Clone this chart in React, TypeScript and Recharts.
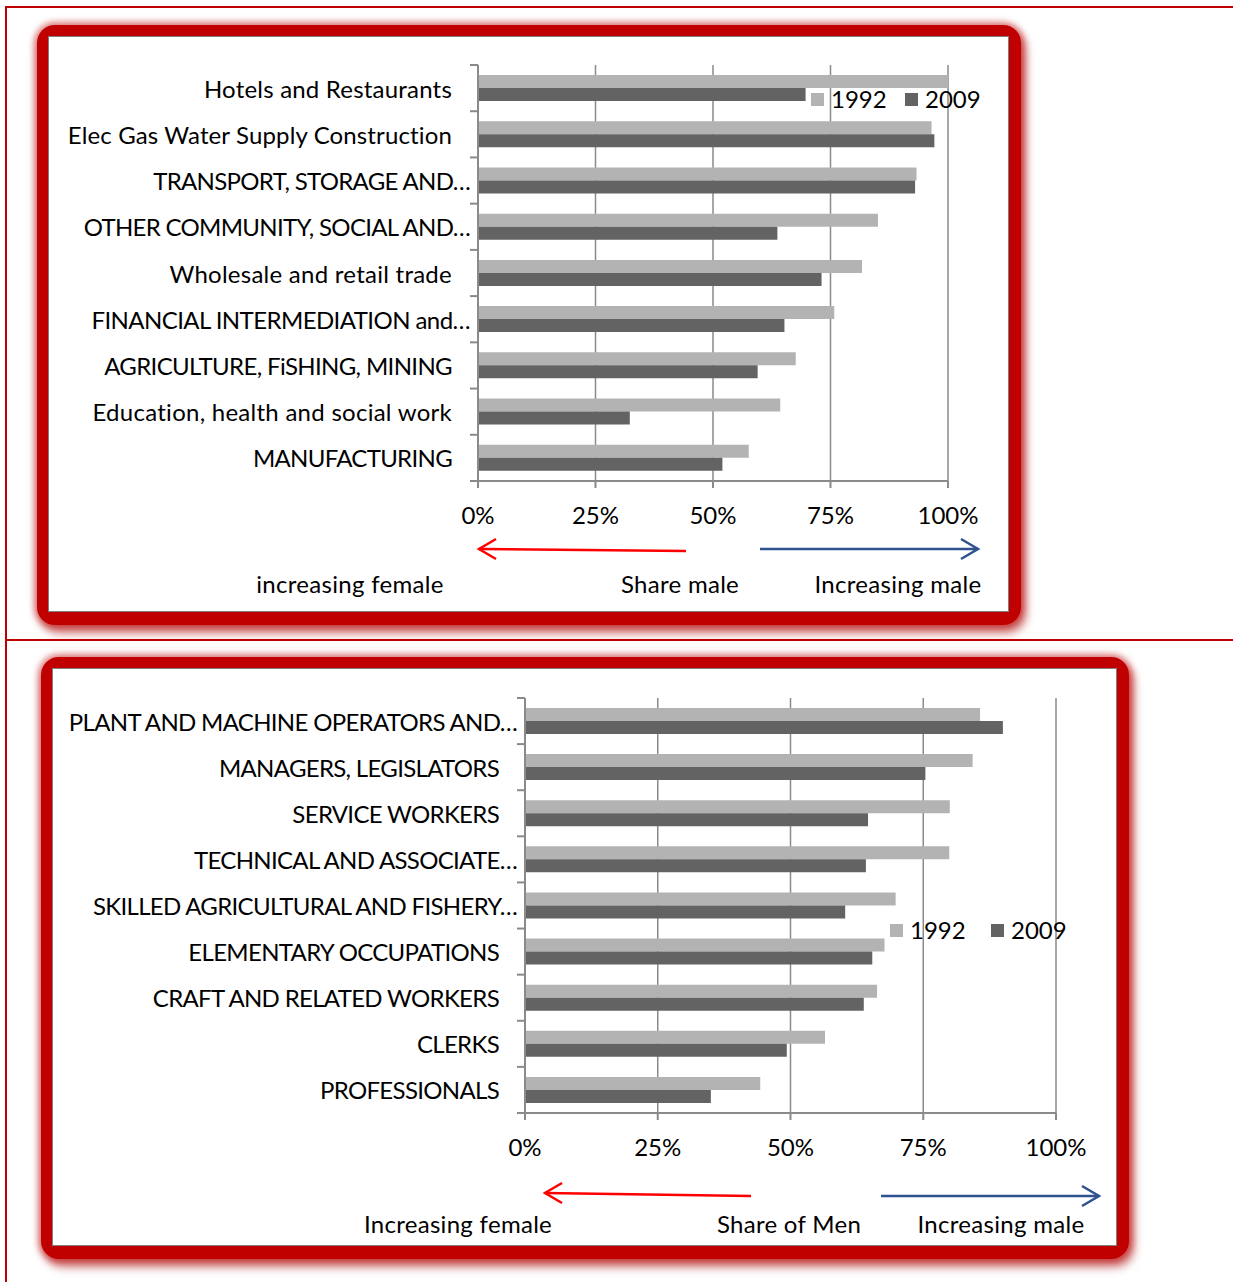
import React from 'react';
import { BarChart, Bar, XAxis, YAxis, CartesianGrid, Legend } from 'recharts';

const FONT = 'Lato, "Open Sans", sans-serif';
const GRID = '#8a8a8a';
const LIGHT = '#b3b3b3';
const DARK = '#636363';

// Panel 1: share of men by industry
const industries = [
  'Hotels and Restaurants',
  'Elec Gas Water Supply Construction',
  'TRANSPORT, STORAGE AND…',
  'OTHER COMMUNITY, SOCIAL AND…',
  'Wholesale and retail trade',
  'FINANCIAL INTERMEDIATION and…',
  'AGRICULTURE, FiSHING, MINING',
  'Education, health and social work',
  'MANUFACTURING',
];
const industry1992 = [100, 96.5, 93.3, 85.1, 81.7, 75.8, 67.6, 64.3, 57.6];
const industry2009 = [69.7, 97.1, 93.0, 63.7, 73.1, 65.2, 59.5, 32.3, 52.0];

// Panel 2: share of men by occupation
const occupations = [
  'PLANT AND MACHINE OPERATORS AND…',
  'MANAGERS, LEGISLATORS',
  'SERVICE WORKERS',
  'TECHNICAL AND ASSOCIATE…',
  'SKILLED AGRICULTURAL AND FISHERY…',
  'ELEMENTARY OCCUPATIONS',
  'CRAFT AND RELATED WORKERS',
  'CLERKS',
  'PROFESSIONALS',
];
const occupation1992 = [85.7, 84.3, 80.0, 79.9, 69.8, 67.7, 66.3, 56.5, 44.3];
const occupation2009 = [90.0, 75.4, 64.6, 64.2, 60.3, 65.4, 63.8, 49.3, 35.0];

const pctTicks = [0, 25, 50, 75, 100];
const years = ['1992', '2009'];

const toRows = (names: string[], a: number[], b: number[]) =>
  names.map((name, i) => ({ name, y1992: a[i], y2009: b[i] }));

// Lato caps run wider than Calibri, lowercase narrower: nudge spacing by mix
const spacingFor = (label: string) => {
  const letters = label.replace(/[^A-Za-z]/g, '');
  if (!letters.length) return 0;
  const upper = letters.replace(/[^A-Z]/g, '').length / letters.length;
  return upper * -0.68 + (1 - upper) * 0.3;
};

// category label + tick marks on the band boundaries (Excel style)
const makeYTick = (axisX: number, band: number, count: number) => (props: any) => {
  const { y, payload, index } = props;
  const label: string = payload.value;
  const truncated = label.endsWith('…');
  return (
    <g>
      <line x1={axisX - 8} x2={axisX} y1={y - band / 2} y2={y - band / 2} stroke={GRID} strokeWidth={2} />
      {index === count - 1 && (
        <line x1={axisX - 8} x2={axisX} y1={y + band / 2} y2={y + band / 2} stroke={GRID} strokeWidth={2} />
      )}
      <text
        x={axisX - (truncated ? 8 : 26)}
        y={y}
        textAnchor="end"
        dominantBaseline="central"
        fill="#000"
        fontSize={24}
        fontFamily={FONT}
        letterSpacing={spacingFor(label)}
      >
        {label}
      </text>
    </g>
  );
};

const XTick = (props: any) => {
  const { x, y, payload } = props;
  return (
    <text x={x} y={y + 26} textAnchor="middle" dominantBaseline="central" fill="#000" fontSize={24} fontFamily={FONT}>
      {`${payload.value}%`}
    </text>
  );
};

const LegendBox: React.FC<{ itemWidth: number }> = ({ itemWidth }) => (
  <div style={{ display: 'flex', fontFamily: FONT, fontSize: 24, color: '#000', lineHeight: '26px' }}>
    {years.map((yr, i) => (
      <div key={yr} style={{ display: 'flex', alignItems: 'center', width: itemWidth }}>
        <div style={{ width: 13, height: 13, background: i === 0 ? LIGHT : DARK, marginRight: 7 }} />
        <span>{yr}</span>
      </div>
    ))}
  </div>
);

interface PanelChartProps {
  rows: any[];
  top: number;
  height: number;
  plotLeft: number;
  plotRight: number;
  plotTop: number;
  plotBottom: number;
  legendLeft: number;
  legendTop: number;
  legendItemWidth: number;
}

const PanelChart: React.FC<PanelChartProps> = ({
  rows, top, height, plotLeft, plotRight, plotTop, plotBottom, legendLeft, legendTop, legendItemWidth,
}) => {
  const yAxisWidth = 430;
  const xAxisHeight = 50;
  const band = (plotBottom - plotTop) / rows.length;
  return (
    <div style={{ position: 'absolute', left: 0, top, width: 1233, height }}>
      <BarChart
        layout="vertical"
        width={1233}
        height={height}
        data={rows}
        barSize={13}
        barGap={0}
        margin={{
          top: plotTop,
          bottom: height - plotBottom - xAxisHeight,
          left: plotLeft - yAxisWidth,
          right: 1233 - plotRight,
        }}
      >
        <CartesianGrid horizontal={false} stroke={GRID} strokeWidth={1.5} />
        <XAxis
          type="number"
          domain={[0, 100]}
          ticks={pctTicks}
          height={xAxisHeight}
          tickSize={7}
          tickMargin={0}
          axisLine={{ stroke: GRID, strokeWidth: 2 }}
          tickLine={{ stroke: GRID, strokeWidth: 2 }}
          tick={<XTick />}
          interval={0}
        />
        <YAxis
          type="category"
          dataKey="name"
          width={yAxisWidth}
          axisLine={{ stroke: GRID, strokeWidth: 2 }}
          tickLine={false}
          interval={0}
          tick={makeYTick(plotLeft, band, rows.length)}
        />
        <Legend
          layout="horizontal"
          verticalAlign="middle"
          align="center"
          wrapperStyle={{ left: legendLeft, top: legendTop, width: 'auto' }}
          content={() => <LegendBox itemWidth={legendItemWidth} />}
        />
        <Bar dataKey="y1992" name="1992" fill={LIGHT} isAnimationActive={false} />
        <Bar dataKey="y2009" name="2009" fill={DARK} isAnimationActive={false} />
      </BarChart>
    </div>
  );
};

const Frame: React.FC<{ left: number; top: number; right: number; bottom: number }> = ({ left, top, right, bottom }) => (
  <>
    <div
      style={{
        position: 'absolute',
        left: left - 11,
        top: top - 11,
        width: right - left + 23,
        height: bottom - top + 24,
        background: '#c00000',
        borderRadius: 18,
        boxShadow: '0 0 6px 3px rgba(192,0,0,0.5), 4px 7px 10px 1px rgba(170,0,0,0.55)',
      }}
    />
    <div
      style={{
        position: 'absolute',
        left,
        top,
        width: right - left,
        height: bottom - top,
        background: '#fff',
        border: '1.5px solid #808080',
        boxSizing: 'border-box',
      }}
    />
  </>
);

const Arrow: React.FC<{ x1: number; y1: number; x2: number; y2: number; color: string }> = ({ x1, y1, x2, y2, color }) => {
  const dir = x2 > x1 ? -1 : 1;
  return (
    <g stroke={color} strokeWidth={2.5} fill="none">
      <line x1={x1} y1={y1} x2={x2} y2={y2} />
      <polyline points={`${x2 + dir * 17},${y2 - 10} ${x2},${y2} ${x2 + dir * 17},${y2 + 10}`} />
    </g>
  );
};

const Caption: React.FC<{ x: number; y: number; children: React.ReactNode }> = ({ x, y, children }) => (
  <text x={x} y={y} textAnchor="middle" dominantBaseline="central" fontSize={24} fontFamily={FONT} fill="#000" letterSpacing={0.3}>
    {children}
  </text>
);

export default function App() {
  return (
    <div style={{ position: 'absolute', left: 0, top: 0, width: 1233, height: 1282, background: '#fff', overflow: 'hidden' }}>
      {/* table cell borders */}
      <div style={{ position: 'absolute', left: 5, top: 6, width: 1228, height: 2, background: '#c00000' }} />
      <div style={{ position: 'absolute', left: 5, top: 639, width: 1228, height: 2, background: '#c00000' }} />
      <div style={{ position: 'absolute', left: 5, top: 6, width: 2, height: 1276, background: '#c00000' }} />

      <Frame left={48} top={36} right={1009} bottom={612} />
      <Frame left={52} top={668} right={1117} bottom={1246} />

      <PanelChart
        rows={toRows(industries, industry1992, industry2009)}
        top={0}
        height={640}
        plotLeft={478}
        plotRight={948}
        plotTop={65}
        plotBottom={481}
        legendLeft={811}
        legendTop={86}
        legendItemWidth={94}
      />
      <PanelChart
        rows={toRows(occupations, occupation1992, occupation2009)}
        top={640}
        height={642}
        plotLeft={525}
        plotRight={1056}
        plotTop={58}
        plotBottom={473}
        legendLeft={890}
        legendTop={277}
        legendItemWidth={101}
      />

      <svg width={1233} height={1282} style={{ position: 'absolute', left: 0, top: 0, pointerEvents: 'none' }}>
        <Arrow x1={686} y1={551} x2={479} y2={549} color="#ff0000" />
        <Arrow x1={760} y1={549} x2={978} y2={549} color="#2f528f" />
        <Caption x={350} y={583}>increasing female</Caption>
        <Caption x={680} y={583}>Share male</Caption>
        <Caption x={898} y={583}>Increasing male</Caption>

        <Arrow x1={751} y1={1196} x2={545} y2={1193} color="#ff0000" />
        <Arrow x1={881} y1={1196} x2={1099} y2={1196} color="#2f528f" />
        <Caption x={458} y={1223}>Increasing female</Caption>
        <Caption x={789} y={1223}>Share of Men</Caption>
        <Caption x={1001} y={1223}>Increasing male</Caption>
      </svg>
    </div>
  );
}
